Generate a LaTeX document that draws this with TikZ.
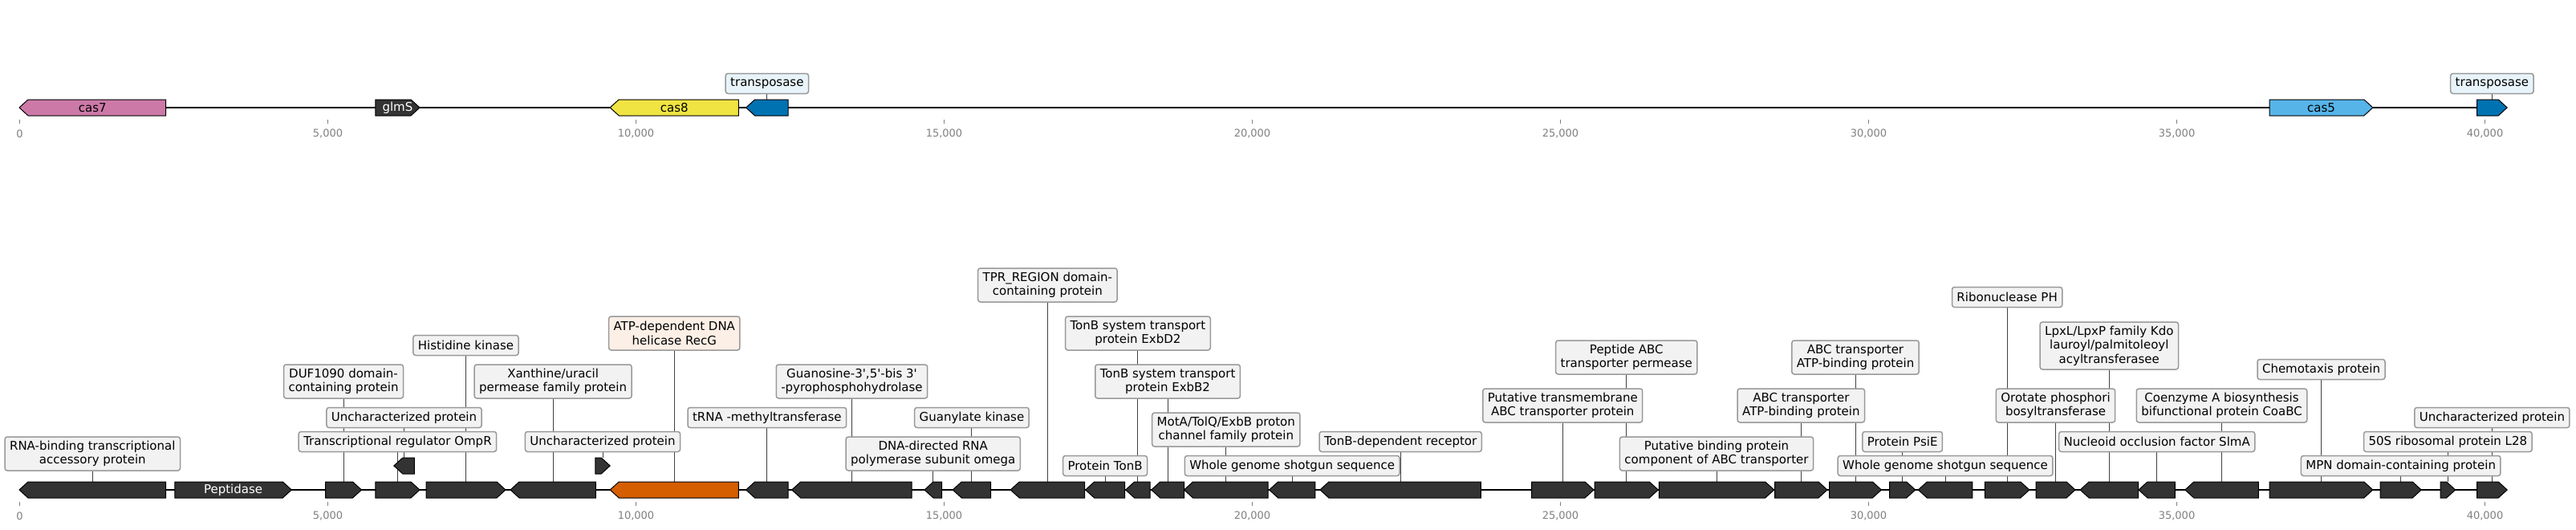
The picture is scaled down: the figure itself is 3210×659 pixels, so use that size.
\documentclass[tikz,border=0pt]{standalone}
\usepackage{fontspec}
\setmainfont{DejaVu Sans}
\pgfdeclarelayer{bg}
\pgfsetlayers{bg,main}
\definecolor{genedark}{HTML}{333333}
\definecolor{cassev}{HTML}{CC79A7}
\definecolor{caseight}{HTML}{F0E442}
\definecolor{tpase}{HTML}{0072B2}
\definecolor{casfive}{HTML}{56B4E9}
\definecolor{recg}{HTML}{D55E00}
\definecolor{boxgray}{HTML}{F2F2F2}
\definecolor{boxblue}{HTML}{E8F4FA}
\definecolor{boxorange}{HTML}{FCEFE6}
\definecolor{edgegray}{HTML}{999999}
\definecolor{tickgray}{HTML}{808080}
\tikzset{
 genebox/.style={draw=black, line width=0.5pt, line join=miter},
 lbl/.style={draw=edgegray, line width=0.75pt, rounded corners=1.5pt, fill=boxgray,
   font=\fontsize{7.5}{8.75}\selectfont, align=center, inner xsep=3pt, inner ysep=0pt,
   minimum height=12.5pt},
 lbltwo/.style={lbl, minimum height=21pt},
 lblthree/.style={lbl, minimum height=29.5pt},
 lblline/.style={draw=black!75, line width=0.5pt},
 backbone/.style={draw=black, line width=1pt},
 ticklbl/.style={font=\fontsize{6.5}{7.5}\selectfont, text=tickgray, inner sep=0pt},
 tickmark/.style={draw=tickgray, line width=0.4pt},
 genetext/.style={font=\fontsize{7.5}{8.75}\selectfont, inner sep=0pt},
}
\newcommand{\mkgene}[6]{%
 \pgfmathsetmacro\gA{#2}%
 \pgfmathsetmacro\gB{#3}%
 \pgfmathsetmacro\gC{#4}%
 \pgfmathsetmacro\gH{min(11,0.65*(\gB-\gA))}%
 \pgfmathsetmacro\gU{\gC-10}%
 \pgfmathsetmacro\gD{\gC+10}%
 \if R#5%
  \pgfmathsetmacro\gK{\gB-\gH}%
  \draw[genebox,fill=#6] (\gA,\gU) -- (\gK,\gU) -- (\gB,\gC) -- (\gK,\gD) -- (\gA,\gD) -- cycle;
 \else
  \pgfmathsetmacro\gK{\gA+\gH}%
  \draw[genebox,fill=#6] (\gB,\gU) -- (\gK,\gU) -- (\gA,\gC) -- (\gK,\gD) -- (\gB,\gD) -- cycle;
 \fi
 \coordinate (#1) at ({(\gA+\gB)/2},\gU);
 \coordinate (#1c) at ({(\gA+\gB)/2},\gC);
}
\begin{document}
\begin{tikzpicture}[x=0.5pt,y=-0.5pt]
\useasboundingbox (0,0) rectangle (3210,659);
\begin{pgfonlayer}{bg}
\fill[white] (0,0) rectangle (3210,659);
\end{pgfonlayer}

% ---------- axes ----------
\foreach \k/\lab in {0/0,1/{5,000},2/{10,000},3/{15,000},4/{20,000},5/{25,000},6/{30,000},7/{35,000},8/{40,000}}{
  \pgfmathsetmacro\tx{24.5+384*\k}
  \draw[tickmark] (\tx,149) -- (\tx,154);
  \node[ticklbl] (tt\k) at (\tx,166.5) {\lab};
  \draw[tickmark] (\tx,625) -- (\tx,630);
  \node[ticklbl] (bt\k) at (\tx,642.5) {\lab};
}

% ---------- top record ----------
\draw[backbone] (24,134) -- (3124,134);
\mkgene{tg1}{24}{206.6}{134}{L}{cassev}
\mkgene{tg2}{467.9}{523}{134}{R}{genedark}
\mkgene{tg3}{760.2}{920.4}{134}{L}{caseight}
\mkgene{tg4}{929.6}{982.1}{134}{L}{tpase}
\mkgene{tg5}{2828.2}{2956.8}{134}{R}{casfive}
\mkgene{tg6}{3086.5}{3124.2}{134}{R}{tpase}
\node[genetext] (tx1) at (tg1c) {cas7};
\node[genetext,text=white] (tx2) at (tg2c) {glmS};
\node[genetext] (tx3) at (tg3c) {cas8};
\node[genetext] (tx5) at (tg5c) {cas5};
\node[lbl,fill=boxblue] (tb4) at (tg4 |- 0,104) {transposase};
\node[lbl,fill=boxblue] (tb6) at (tg6 |- 0,104) {transposase};
\begin{pgfonlayer}{bg}
\draw[lblline] (tg4) -- (tb4.center);
\draw[lblline] (tg6) -- (tb6.center);
\end{pgfonlayer}

% ---------- bottom record ----------
\draw[backbone] (24,610) -- (3124,610);
\mkgene{g1}{24}{206.6}{610}{L}{genedark}
\mkgene{g2}{217.9}{363.3}{610}{R}{genedark}
\mkgene{g3}{405.6}{450.5}{610}{R}{genedark}
\mkgene{g4}{467.9}{523}{610}{R}{genedark}
\mkgene{r1}{490.8}{516.3}{580}{L}{genedark}
\mkgene{g5}{531}{630}{610}{R}{genedark}
\mkgene{g6}{636}{742.3}{610}{L}{genedark}
\mkgene{r2}{741.8}{760.2}{580}{R}{genedark}
\mkgene{g7}{760.2}{920.4}{610}{L}{recg}
\mkgene{g8}{929.6}{982.1}{610}{L}{genedark}
\mkgene{g9}{986.7}{1136.2}{610}{L}{genedark}
\mkgene{g10}{1152}{1173.5}{610}{L}{genedark}
\mkgene{g11}{1187.2}{1234.7}{610}{L}{genedark}
\mkgene{g12}{1259.2}{1351.5}{610}{L}{genedark}
\mkgene{g13}{1352.6}{1401.5}{610}{L}{genedark}
\mkgene{g14}{1402.6}{1433.2}{610}{L}{genedark}
\mkgene{g15}{1434.7}{1475.5}{610}{L}{genedark}
\mkgene{g16}{1475.5}{1580.1}{610}{L}{genedark}
\mkgene{g17}{1581.6}{1638.8}{610}{L}{genedark}
\mkgene{g18}{1644.9}{1845.4}{610}{L}{genedark}
\mkgene{g19}{1908.5}{1986}{610}{R}{genedark}
\mkgene{g20}{1987.2}{2066.3}{610}{R}{genedark}
\mkgene{g21}{2067.3}{2210.7}{610}{R}{genedark}
\mkgene{g22}{2211.7}{2277}{610}{R}{genedark}
\mkgene{g23}{2279.6}{2344.4}{610}{R}{genedark}
\mkgene{g24}{2354.6}{2386.7}{610}{R}{genedark}
\mkgene{g25}{2390.3}{2457.8}{610}{L}{genedark}
\mkgene{g26}{2473.4}{2528.8}{610}{R}{genedark}
\mkgene{g27}{2537}{2586}{610}{R}{genedark}
\mkgene{g28}{2592.1}{2664.5}{610}{L}{genedark}
\mkgene{g29}{2665}{2710.4}{610}{L}{genedark}
\mkgene{g30}{2722.8}{2814.3}{610}{L}{genedark}
\mkgene{g31}{2828.2}{2956.8}{610}{R}{genedark}
\mkgene{g32}{2966.1}{3017.2}{610}{R}{genedark}
\mkgene{g33}{3041}{3059.6}{610}{R}{genedark}
\mkgene{g34}{3086.5}{3124.2}{610}{R}{genedark}
\node[genetext,text=white] (pep) at (g2c) {Peptidase};

\node[lbltwo] (b1) at (g1 |- 0,565) {RNA-binding transcriptional\\accessory protein};
\node[lbltwo] (b3) at (g3 |- 0,475) {DUF1090 domain-\\containing protein};
\node[lbl] (br1) at (r1 |- 0,520) {Uncharacterized protein};
\node[lbl] (b4) at (g4 |- 0,550) {Transcriptional regulator OmpR};
\node[lbl] (b5) at (g5 |- 0,430) {Histidine kinase};
\node[lbltwo] (b6) at (g6 |- 0,475) {Xanthine/uracil\\permease family protein};
\node[lbl] (br2) at (r2 |- 0,550) {Uncharacterized protein};
\node[lbltwo,fill=boxorange] (b7) at (g7 |- 0,415) {ATP-dependent DNA\\helicase RecG};
\node[lbl] (b8) at (g8 |- 0,520) {tRNA -methyltransferase};
\node[lbltwo] (b9) at (g9 |- 0,475) {Guanosine-3\textquotesingle,5\textquotesingle-bis 3\textquotesingle\\-pyrophosphohydrolase};
\node[lbltwo] (b10) at (g10 |- 0,565) {DNA-directed RNA\\polymerase subunit omega};
\node[lbl] (b11) at (g11 |- 0,520) {Guanylate kinase};
\node[lbltwo] (b12) at (g12 |- 0,355) {TPR\_REGION domain-\\containing protein};
\node[lbl] (b13) at (g13 |- 0,580) {Protein TonB};
\node[lbltwo] (b14) at (g14 |- 0,415) {TonB system transport\\protein ExbD2};
\node[lbltwo] (b15) at (g15 |- 0,475) {TonB system transport\\protein ExbB2};
\node[lbltwo] (b16) at (g16 |- 0,535) {MotA/TolQ/ExbB proton\\channel family protein};
\node[lbl] (b17) at (g17 |- 0,580) {Whole genome shotgun sequence};
\node[lbl] (b18) at (g18 |- 0,550) {TonB-dependent receptor};
\node[lbltwo] (b19) at (g19 |- 0,505) {Putative transmembrane\\ABC transporter protein};
\node[lbltwo] (b20) at (g20 |- 0,445) {Peptide ABC\\transporter permease};
\node[lbltwo] (b21) at (g21 |- 0,565) {Putative binding protein\\component of ABC transporter};
\node[lbltwo] (b22) at (g22 |- 0,505) {ABC transporter\\ATP-binding protein};
\node[lbltwo] (b23) at (g23 |- 0,445) {ABC transporter\\ATP-binding protein};
\node[lbl] (b24) at (g24 |- 0,550) {Protein PsiE};
\node[lbl] (b25) at (g25 |- 0,580) {Whole genome shotgun sequence};
\node[lbl] (b26) at (g26 |- 0,370) {Ribonuclease PH};
\node[lbltwo] (b27) at (g27 |- 0,505) {Orotate phosphori\\bosyltransferase};
\node[lblthree] (b28) at (g28 |- 0,430.5) {LpxL/LpxP family Kdo\\lauroyl/palmitoleoyl\\acyltransferasee};
\node[lbl] (b29) at (g29 |- 0,550) {Nucleoid occlusion factor SlmA};
\node[lbltwo] (b30) at (g30 |- 0,505) {Coenzyme A biosynthesis\\bifunctional protein CoaBC};
\node[lbl] (b31) at (g31 |- 0,460) {Chemotaxis protein};
\node[lbl] (b32) at (g32 |- 0,580) {MPN domain-containing protein};
\node[lbl] (b33) at (g33 |- 0,550) {50S ribosomal protein L28};
\node[lbl] (b34) at (g34 |- 0,520) {Uncharacterized protein};

\begin{pgfonlayer}{bg}
\foreach \g/\b in {g1/b1,g3/b3,r1/br1,g4/b4,g5/b5,g6/b6,r2/br2,g7/b7,g8/b8,g9/b9,g10/b10,g11/b11,g12/b12,g13/b13,g14/b14,g15/b15,g16/b16,g17/b17,g18/b18,g19/b19,g20/b20,g21/b21,g22/b22,g23/b23,g24/b24,g25/b25,g26/b26,g27/b27,g28/b28,g29/b29,g30/b30,g31/b31,g32/b32,g33/b33,g34/b34}{
  \draw[lblline] (\g) -- (\b.center);
}
\end{pgfonlayer}
\end{tikzpicture}
\end{document}
